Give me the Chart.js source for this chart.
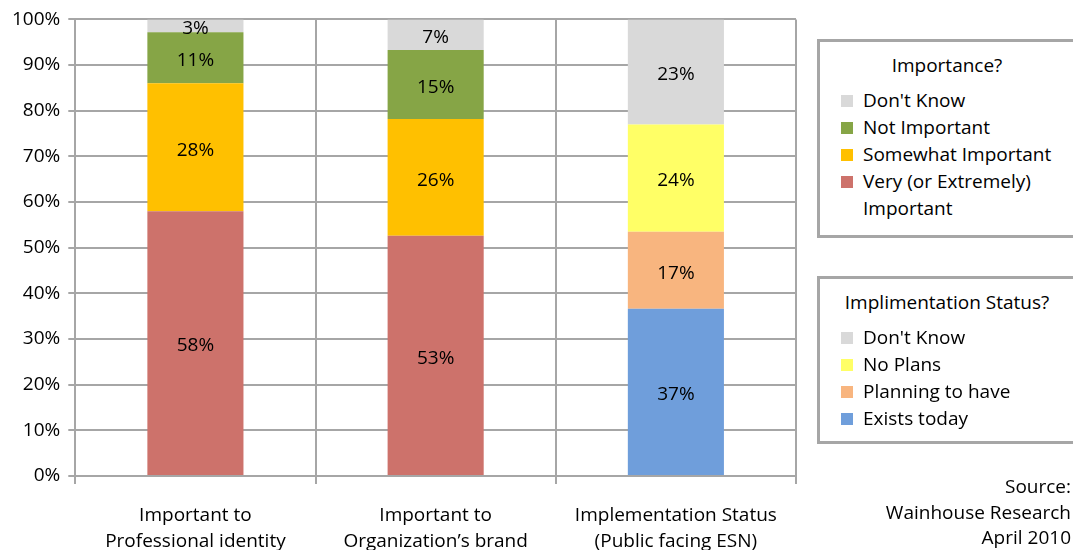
<!DOCTYPE html>
<html>
<head>
<meta charset="utf-8">
<script src="https://cdn.jsdelivr.net/npm/chart.js@4"></script>
<style>
  html, body { margin: 0; padding: 0; background: #fff; overflow: hidden; }
  #wrap { position: relative; width: 1073px; height: 550px; overflow: hidden; font-family: "Open Sans", sans-serif; color: #000; }
  .legend { position: absolute; left: 817px; width: 260px; border: 3px solid #a6a6a6; box-sizing: border-box; background: #fff; font-size: 19px; }
  .legend .title { text-align: center; margin: 11px 0 10px 0; line-height: 24px; }
  .legend .item { position: relative; padding-left: 43px; line-height: 27px; white-space: nowrap; }
  .legend .sw { position: absolute; left: 21px; top: 8px; width: 12px; height: 12px; }
  #source { position: absolute; right: 2px; top: 474px; text-align: right; font-size: 19px; line-height: 25.5px; }
</style>
</head>
<body>
<div id="wrap">
  <canvas id="chart1" width="1073" height="574"></canvas>
  <div class="legend" id="leg1" style="top:39px;height:199px;"></div>
  <div class="legend" id="leg2" style="top:276px;height:168px;"></div>
  <div id="source">Source:<br>Wainhouse Research<br>April 2010</div>
</div>
<script>
var categories = [["Important to", "Professional identity"], ["Important to", "Organization\u2019s brand"], ["Implementation Status", "(Public facing ESN)"]];

// importance (first two bars)
var veryImportant     = [58.0, 52.6, null];
var somewhatImportant = [28.0, 25.6, null];
var notImportant      = [11.2, 15.1, null];
var dontKnowImp       = [2.8, 6.7, null];

// implementation status (third bar)
var existsToday    = [null, null, 36.6];
var planningToHave = [null, null, 16.9];
var noPlans        = [null, null, 23.5];
var dontKnowImpl   = [null, null, 23.0];

var yTicks = [0, 10, 20, 30, 40, 50, 60, 70, 80, 90, 100];

var series = [
    {label: 'Very (or Extremely) Important', data: veryImportant, color: '#CD726B', legend: 1},
    {label: 'Somewhat Important', data: somewhatImportant, color: '#FFC000', legend: 1},
    {label: 'Not Important', data: notImportant, color: '#86A546', legend: 1},
    {label: "Don't Know", data: dontKnowImp, color: '#D9D9D9', legend: 1},
    {label: 'Exists today', data: existsToday, color: '#6F9EDB', legend: 2},
    {label: 'Planning to have', data: planningToHave, color: '#F8B57F', legend: 2},
    {label: 'No Plans', data: noPlans, color: '#FFFF66', legend: 2},
    {label: "Don't Know", data: dontKnowImpl, color: '#D9D9D9', legend: 2}
];

// html legends, listed top-down like the original
function buildLegend(id, title, which) {
    var el = document.getElementById(id);
    var html = '<div class="title">' + title + '</div>';
    series.filter(function (s) { return s.legend === which; }).reverse().forEach(function (s) {
        var txt = s.label === 'Very (or Extremely) Important' ? 'Very (or Extremely)<br>Important' : s.label;
        html += '<div class="item"><span class="sw" style="background:' + s.color + '"></span>' + txt + '</div>';
    });
    el.innerHTML = html;
}
buildLegend('leg1', 'Importance?', 1);
buildLegend('leg2', 'Implimentation Status?', 2);

var barLabels = {
    id: 'barLabels',
    afterDatasetsDraw: function (chart) {
        var c = chart.ctx;
        c.save();
        c.font = '19px "Open Sans", sans-serif';
        c.fillStyle = '#000';
        c.textAlign = 'center';
        c.textBaseline = 'middle';
        chart.data.datasets.forEach(function (ds, i) {
            var meta = chart.getDatasetMeta(i);
            meta.data.forEach(function (bar, j) {
                var v = ds.data[j];
                if (v === null) return;
                c.fillText(Math.round(v) + '%', bar.x, (bar.y + bar.base) / 2 + 3);
            });
        });
        c.restore();
    }
};

var ctx = document.getElementById('chart1').getContext('2d');
var chart1 = new Chart(ctx, {
    type: 'bar',
    data: {
        labels: categories,
        datasets: series.map(function (s) {
            return {
                label: s.label,
                data: s.data,
                backgroundColor: s.color,
                borderWidth: 0,
                categoryPercentage: 1,
                barPercentage: 0.4,
                stack: 'all'
            };
        })
    },
    options: {
        responsive: false,
        animation: false,
        devicePixelRatio: 1,
        layout: { padding: { top: 7, right: 277, left: 4, bottom: 0 } },
        plugins: { legend: { display: false }, tooltip: { enabled: false } },
        scales: {
            x: {
                stacked: true,
                grid: { offset: true, color: '#a6a6a6', lineWidth: 2, tickLength: 8, drawOnChartArea: true },
                border: { color: '#a6a6a6', width: 2 },
                ticks: { color: '#000', padding: 19, maxRotation: 0, font: { family: 'Open Sans', size: 19, lineHeight: 1.37 } }
            },
            y: {
                stacked: true,
                min: 0,
                max: 100,
                afterBuildTicks: function (axis) { axis.ticks = yTicks.map(function (v) { return {value: v}; }); },
                grid: { color: '#a6a6a6', lineWidth: 2, tickLength: 7 },
                border: { color: '#a6a6a6', width: 2 },
                ticks: { color: '#000', padding: 8, font: { family: 'Open Sans', size: 19 }, callback: function (v) { return v + '%'; } }
            }
        }
    },
    plugins: [barLabels]
});
</script>
</body>
</html>
